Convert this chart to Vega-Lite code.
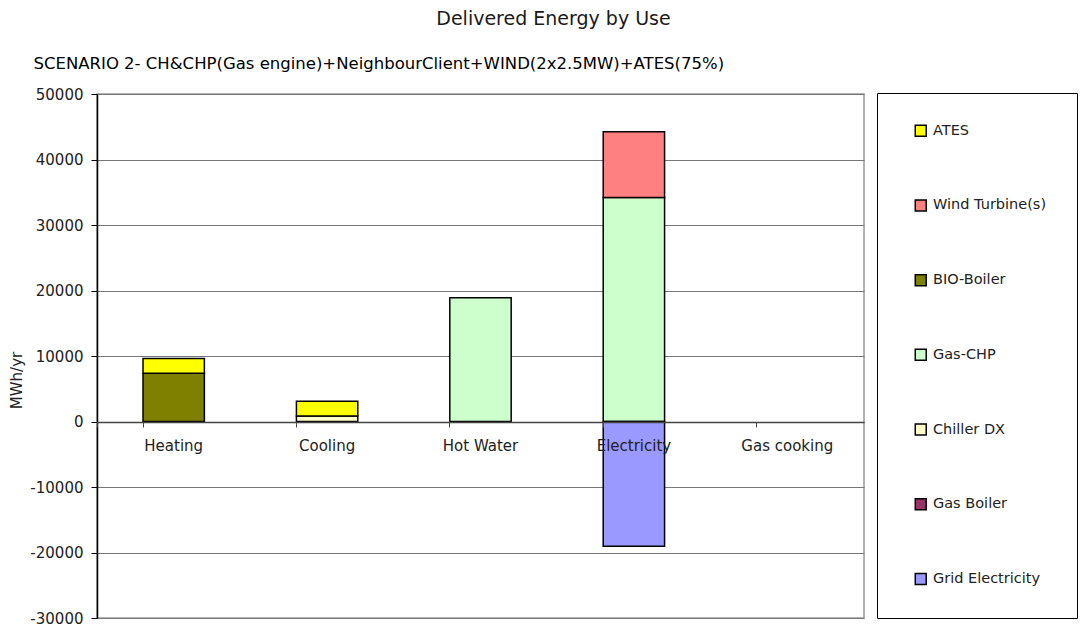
{
  "$schema": "https://vega.github.io/schema/vega-lite/v6.json",
  "autosize": "none",
  "width": 767,
  "height": 524,
  "padding": {"left": 97, "top": 94, "right": 225, "bottom": 10},
  "background": "white",
  "config": {
    "font": "DejaVu Sans",
    "view": {"stroke": "#9a9a9a", "strokeWidth": 1.5}
  },
  "title": {
    "text": "Delivered Energy by Use",
    "anchor": "middle",
    "frame": "group",
    "dx": 73,
    "offset": 11,
    "baseline": "alphabetic",
    "fontSize": 19,
    "fontWeight": "normal",
    "color": "#1a1a1a"
  },
  "data": {
    "values": [
      {"use": "Heating", "source": "BIO-Boiler", "rank": 5, "value": 7350},
      {"use": "Heating", "source": "ATES", "rank": 7, "value": 2250},
      {"use": "Cooling", "source": "Chiller DX", "rank": 3, "value": 850},
      {"use": "Cooling", "source": "ATES", "rank": 7, "value": 2250},
      {"use": "Hot Water", "source": "Gas-CHP", "rank": 4, "value": 18900},
      {"use": "Electricity", "source": "Gas-CHP", "rank": 4, "value": 34200},
      {"use": "Electricity", "source": "Wind Turbine(s)", "rank": 6, "value": 10050},
      {"use": "Electricity", "source": "Grid Electricity", "rank": 1, "value": -19050}
    ]
  },
  "resolve": {"axis": {"x": "independent"}},
  "layer": [
    {
      "mark": {"type": "bar", "stroke": "black", "strokeWidth": 1.5},
      "encoding": {
        "x": {
          "field": "use",
          "type": "nominal",
          "sort": null,
          "scale": {
            "domain": ["Heating", "Cooling", "Hot Water", "Electricity", "Gas cooking"],
            "paddingInner": 0.6,
            "paddingOuter": 0.3
          },
          "axis": {
            "title": null,
            "orient": "bottom",
            "offset": -196,
            "labelAngle": 0,
            "labelFontSize": 15,
            "labelColor": "#222",
            "labelPadding": 11,
            "labelBaseline": "top",
            "bandPosition": 0,
            "tickExtra": true,
            "tickSize": 5,
            "tickColor": "#444",
            "domainColor": "#444",
            "domainWidth": 1.5,
            "zindex": 2
          }
        },
        "y": {
          "field": "value",
          "type": "quantitative",
          "stack": "zero",
          "scale": {"domain": [-30000, 50000], "nice": false},
          "axis": {
            "title": "MWh/yr",
            "titleFontSize": 15,
            "titleFontWeight": "normal",
            "titleColor": "#222",
            "titlePadding": 5,
            "titleY": 286,
            "values": [-30000, -20000, -10000, 0, 10000, 20000, 30000, 40000, 50000],
            "labelExpr": "'' + datum.value",
            "labelFontSize": 15,
            "labelColor": "#222",
            "labelPadding": 8,
            "tickSize": 6,
            "tickColor": "black",
            "domainColor": "black",
            "domainWidth": 1.5,
            "gridColor": "#777",
            "gridWidth": 1,
            "gridOpacity": 1
          }
        },
        "color": {
          "field": "source",
          "type": "nominal",
          "scale": {
            "domain": ["ATES", "Wind Turbine(s)", "BIO-Boiler", "Gas-CHP", "Chiller DX", "Gas Boiler", "Grid Electricity"],
            "range": ["#FFFF00", "#FF8080", "#808000", "#CCFFCC", "#FFFFCC", "#993366", "#9999FF"]
          },
          "legend": {
            "title": null,
            "orient": "none",
            "legendX": 780,
            "legendY": -1,
            "padding": 30.5,
            "strokeColor": "black",
            "symbolType": "square",
            "symbolSize": 120,
            "symbolOffset": 6,
            "symbolStrokeColor": "black",
            "symbolStrokeWidth": 1.5,
            "labelFontSize": 14.5,
            "labelColor": "#222",
            "labelOffset": 5,
            "rowPadding": 56.7,
            "values": ["ATES", "Wind Turbine(s)", "BIO-Boiler", "Gas-CHP", "Chiller DX", "Gas Boiler", "Grid Electricity"]
          }
        },
        "order": {"field": "rank", "type": "quantitative", "sort": "ascending"}
      }
    },
    {
      "mark": {"type": "point", "opacity": 0},
      "encoding": {
        "x": {
          "field": "use",
          "type": "nominal",
          "sort": null,
          "axis": {
            "orient": "top",
            "title": "SCENARIO 2- CH&CHP(Gas engine)+NeighbourClient+WIND(2x2.5MW)+ATES(75%)",
            "labels": false,
            "ticks": false,
            "domain": false,
            "titleAnchor": "start",
            "titleAlign": "left",
            "titleBaseline": "alphabetic",
            "titleX": -64,
            "titleY": -26,
            "titleFontSize": 16.5,
            "titleFontWeight": "normal",
            "titleColor": "black"
          }
        }
      }
    }
  ]
}
